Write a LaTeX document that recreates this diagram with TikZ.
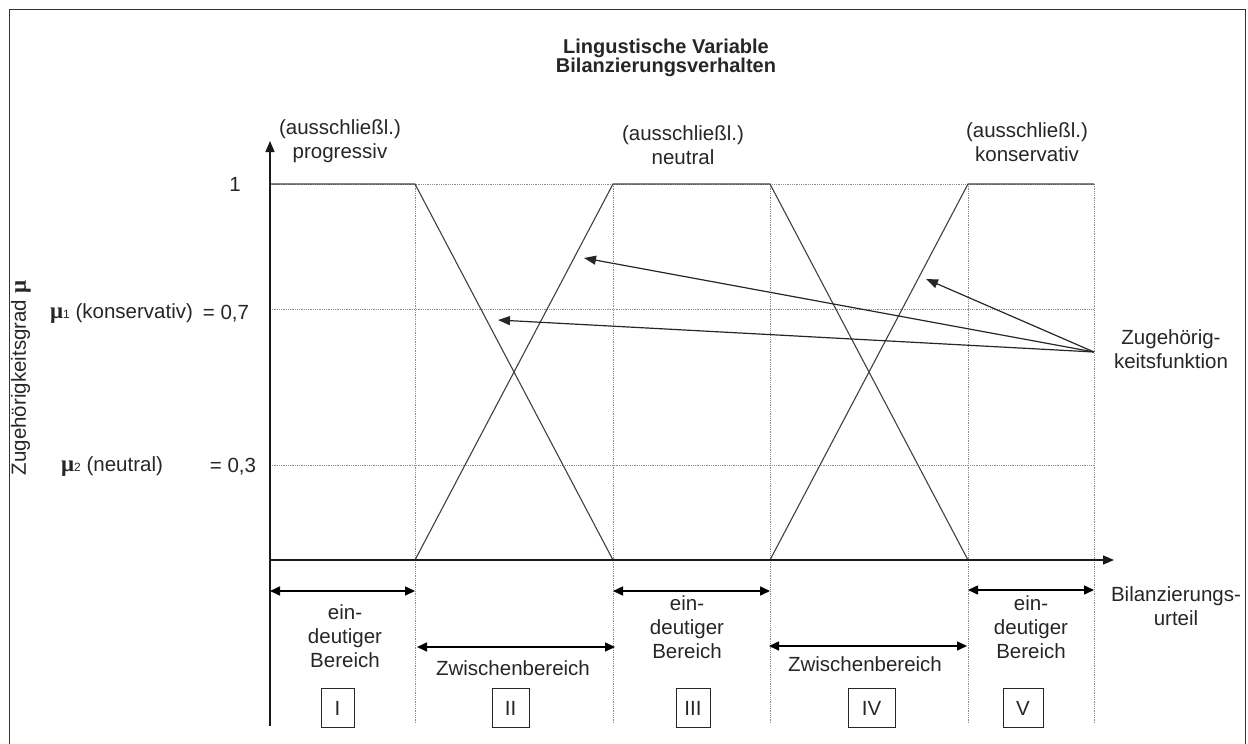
\documentclass[tikz,border=0pt]{standalone}
\usepackage{fontspec}
\setmainfont{Liberation Sans}
\newfontfamily\symfont{Liberation Serif}
\usetikzlibrary{arrows.meta}
\newcommand{\mysym}{{\symfont\bfseries\fontsize{23}{24}\selectfont μ}}

\begin{document}
\begin{tikzpicture}[x=1pt,y=-1pt,
  every node/.style={font=\fontsize{20.5}{24}\selectfont, text=black!85, inner sep=0pt},
  lbl/.style={align=center},
  gridline/.style={draw=black!45, line width=0.6pt, dash pattern=on 0.8pt off 1pt},
  mf/.style={draw=black!75, line width=1.1pt},
  axis/.style={draw=black!90, line width=1.4pt, -{Triangle[length=11pt,width=9pt]}},
  span/.style={draw=black, line width=1.5pt, {Triangle[length=10pt,width=9pt]}-{Triangle[length=10pt,width=9pt]}},
  ptr/.style={draw=black!85, line width=1.2pt, -{Triangle[length=12pt,width=9pt]}},
  numbox/.style={draw=black!85, line width=0.9pt, minimum height=39pt},
]
\useasboundingbox (0,0) rectangle (1248,744);

% outer frame (open at the bottom edge)
\draw[black!80, line width=1pt] (9,744) -- (9,9) -- (1245,9) -- (1245,744);

% title
\node[lbl, font=\fontsize{20}{19.5}\selectfont\bfseries] (title) at (666,58)
  {Lingustische Variable\\Bilanzierungsverhalten};

% key points of the diagram
\coordinate (O)   at (270,560);
\coordinate (Ytop) at (270,141);
\coordinate (Ybot) at (270,726);
\coordinate (Xend) at (1114,560);
\foreach \n/\x in {a/415, b/613, c/770, d/968, e/1094} {
  \coordinate (\n0) at (\x,560);
  \coordinate (\n1) at (\x,184);
  \coordinate (\n7) at (\x,309);
  \coordinate (\n3) at (\x,465);
  \coordinate (\n9) at (\x,723);
}
\coordinate (p1) at (270,184);
\coordinate (p7) at (270,309);
\coordinate (p3) at (270,465);

% dotted grid
\draw[gridline] (p1) -- (e1) (p7) -- (e7) (p3) -- (e3);
\foreach \n in {a,b,c,d,e} \draw[gridline] (\n1) -- (\n9);

% membership functions
\draw[mf] (p1) -- (a1) -- (b0);
\draw[mf] (a0) -- (b1) -- (c1) -- (d0);
\draw[mf] (c0) -- (d1) -- (e1);

% axes
\draw[axis] (Ybot) -- (Ytop);
\draw[axis] (O) -- (Xend);

% headers of the fuzzy sets
\node[lbl] (hP) at (340,141) {(ausschließl.)\\progressiv};
\node[lbl] (hN) at (683,145) {(ausschließl.)\\neutral};
\node[lbl] (hK) at (1027,142) {(ausschließl.)\\konservativ};

% y-axis labels
\node (one) at (235,184) {1};
\node[rotate=90] (ylab) at (21,378) {Zugehörigkeitsgrad \mysym};
\node[anchor=west] (mu1) at (50,314) {\mysym{\fontsize{12}{12}\selectfont 1} (konservativ)};
\node (v7) at (226,314) {= 0,7};
\node[anchor=west] (mu2) at (61,467) {\mysym{\fontsize{12}{12}\selectfont 2} (neutral)};
\node (v3) at (233,467) {= 0,3};

% pointer to the membership functions
\node[lbl] (zf) at (1171,349) {Zugehörig-\\keitsfunktion};
\coordinate (src) at (1094,352);
\coordinate (t1) at (584,258);
\coordinate (t2) at (498,320);
\coordinate (t3) at (926,279);
\draw[ptr] (src) -- (t1);
\draw[ptr] (src) -- (t2);
\draw[ptr] (src) -- (t3);

% x-axis label
\node[lbl] (xlab) at (1176,606) {Bilanzierungs-\\urteil};

% ranges below the axis
\coordinate (s1l) at (270,591); \coordinate (s1r) at (415,591);
\coordinate (s2l) at (417,647); \coordinate (s2r) at (615,647);
\coordinate (s3l) at (613,591); \coordinate (s3r) at (770,591);
\coordinate (s4l) at (769,646); \coordinate (s4r) at (967,646);
\coordinate (s5l) at (968,590); \coordinate (s5r) at (1094,590);
\draw[span] (s1l) -- (s1r);
\draw[span] (s2l) -- (s2r);
\draw[span] (s3l) -- (s3r);
\draw[span] (s4l) -- (s4r);
\draw[span] (s5l) -- (s5r);

\node[lbl] (r1) at (345,636) {ein-\\deutiger\\Bereich};
\node[lbl] (r2) at (513,668) {Zwischenbereich};
\node[lbl] (r3) at (687,627) {ein-\\deutiger\\Bereich};
\node[lbl] (r4) at (865,664) {Zwischenbereich};
\node[lbl] (r5) at (1031,627) {ein-\\deutiger\\Bereich};

% region numbers
\node[numbox, minimum width=33pt] (b1) at (337.5,708) {I};
\node[numbox, minimum width=37pt] (b2) at (510.5,708) {II};
\node[numbox, minimum width=34pt] (b3) at (693,708) {III};
\node[numbox, minimum width=47pt] (b4) at (871.5,708) {IV};
\node[numbox, minimum width=40pt] (b5) at (1023,708) {V};
\end{tikzpicture}
\end{document}
